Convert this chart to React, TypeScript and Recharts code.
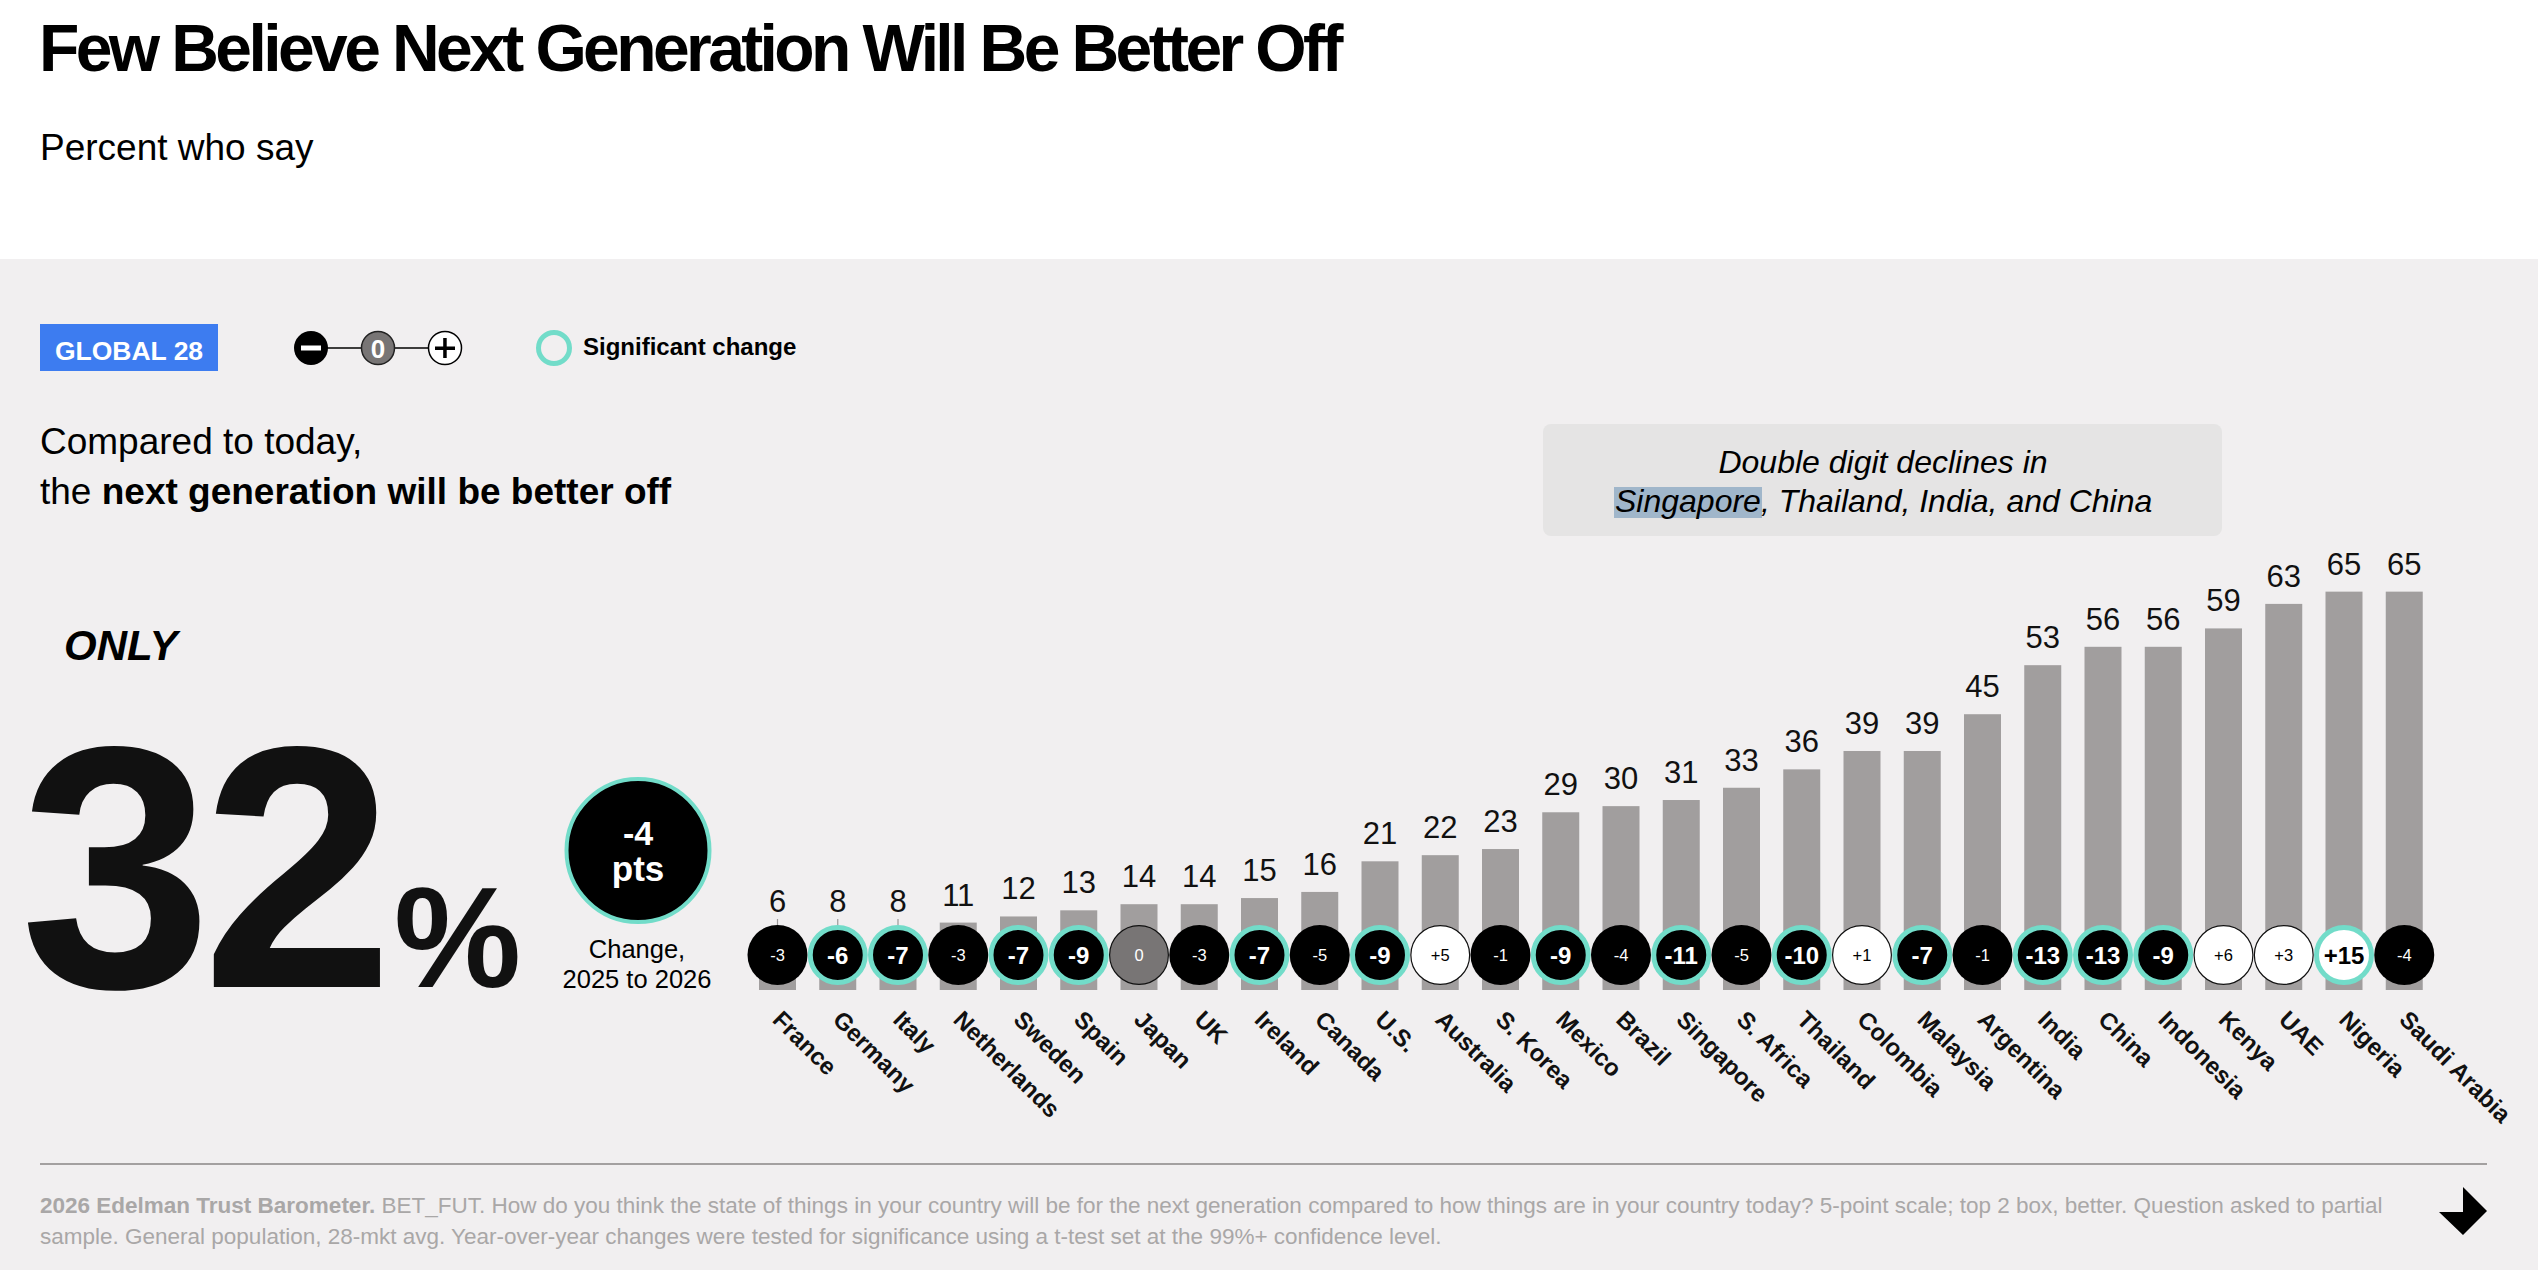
import React from "react";
import { BarChart, Bar, XAxis, YAxis } from "recharts";

const countries = [
  "France", "Germany", "Italy", "Netherlands", "Sweden", "Spain", "Japan", "UK", "Ireland", "Canada",
  "U.S.", "Australia", "S. Korea", "Mexico", "Brazil", "Singapore", "S. Africa", "Thailand", "Colombia",
  "Malaysia", "Argentina", "India", "China", "Indonesia", "Kenya", "UAE", "Nigeria", "Saudi Arabia",
];
const values = [6, 8, 8, 11, 12, 13, 14, 14, 15, 16, 21, 22, 23, 29, 30, 31, 33, 36, 39, 39, 45, 53, 56, 56, 59, 63, 65, 65];
const changes = [-3, -6, -7, -3, -7, -9, 0, -3, -7, -5, -9, 5, -1, -9, -4, -11, -5, -10, 1, -7, -1, -13, -13, -9, 6, 3, 15, -4];
const significant = [false, true, true, false, true, true, false, false, true, false, true, false, false, true, false, true, false, true, false, true, false, true, true, true, false, false, true, false];

const data = countries.map((c, i) => ({ country: c, value: values[i], change: changes[i], sig: significant[i] }));

const FONT = '"Liberation Sans", Arial, Helvetica, sans-serif';
const TEAL = "#72dcc9";
const BAR = "#a19e9e";
const BG = "#f1eff0";

const CIRCLE_OFFSET = 35; // distance from bar base to circle centre
const R = 30;

function BarShape(props: any) {
  const { x, y, width, height, payload } = props;
  const cx = x + width / 2;
  const base = y + height;
  const cy = base - CIRCLE_OFFSET;
  const top = cy - R;
  const labelY = Math.min(y - 17, top - 13);
  const ch = payload.change;
  const fill = ch < 0 ? "#000" : ch === 0 ? "#787575" : "#fff";
  const txtColor = ch > 0 ? "#000" : "#fff";
  const fs = payload.sig ? 24 : 16.5;
  const label = ch > 0 ? `+${ch}` : `${ch}`;
  return (
    <g>
      <rect x={x} y={y} width={width} height={height} fill={BAR} />
      {y > top - 2 && <line x1={cx} x2={cx} y1={top - 6} y2={top} stroke="#9a9898" strokeWidth={1.2} />}
      {payload.sig ? (
        <circle cx={cx} cy={cy} r={R - 2.5} fill={fill} stroke={TEAL} strokeWidth={5} />
      ) : ch < 0 ? (
        <circle cx={cx} cy={cy} r={R} fill={fill} />
      ) : (
        <circle cx={cx} cy={cy} r={R - 0.6} fill={fill} stroke="#111" strokeWidth={1.2} />
      )}
      <text x={cx} y={cy + fs * 0.36} textAnchor="middle" fontFamily={FONT} fontSize={fs}
        fontWeight={payload.sig ? "bold" : "normal"} fill={txtColor}>{label}</text>
      <text x={cx} y={labelY} textAnchor="middle" fontFamily={FONT} fontSize={31} fill="#111">{payload.value}</text>
    </g>
  );
}

function CountryTick(props: any) {
  const { x, payload } = props;
  return (
    <g transform={`translate(${x - 6}, ${1021}) rotate(45)`}>
      <text x={0} y={0} textAnchor="start" fontFamily={FONT} fontSize={24} fontWeight="bold" fill="#111">
        {payload.value}
      </text>
    </g>
  );
}

export default function App() {
  return (
    <div style={{ position: "absolute", left: 0, top: 0, width: 2538, height: 1270, background: "#fff", fontFamily: FONT, overflow: "hidden" }}>
      <div style={{ position: "absolute", left: 0, top: 259, width: 2538, height: 1011, background: BG }} />
      <div style={{ position: "absolute", left: 0, top: 0 }}>
        <BarChart width={2538} height={1270} data={data} margin={{ top: 561, right: 104, bottom: 80, left: 747 }} barCategoryGap={0}>
          <YAxis hide domain={[0, 70]} />
          <XAxis dataKey="country" height={200} interval={0} tickLine={false} axisLine={false} tick={<CountryTick />} />
          <Bar dataKey="value" barSize={37} shape={<BarShape />} isAnimationActive={false} />
        </BarChart>
      </div>
      <svg width={2538} height={1270} style={{ position: "absolute", left: 0, top: 0, pointerEvents: "none" }} fontFamily={FONT}>
        {/* Title */}
        <text x={39} y={71} fontSize={66} fontWeight="bold" letterSpacing={-3.6} fill="#000">Few Believe Next Generation Will Be Better Off</text>
        <text x={40} y={160} fontSize={37} fill="#000">Percent who say</text>

        {/* Legend */}
        <rect x={40} y={324} width={178} height={47} fill="#3d7cf0" />
        <text x={129} y={360} textAnchor="middle" fontSize={26.5} fontWeight="bold" fill="#fff">GLOBAL 28</text>
        <line x1={311} x2={445} y1={348} y2={348} stroke="#000" strokeWidth={1.5} />
        <circle cx={311} cy={348} r={17} fill="#000" />
        <rect x={301} y={345.5} width={20} height={5} fill="#fff" />
        <circle cx={378} cy={348} r={16.5} fill="#787575" stroke="#222" strokeWidth={1.5} />
        <text x={378} y={357.5} textAnchor="middle" fontSize={26} fontWeight="bold" fill="#fff">0</text>
        <circle cx={445} cy={348} r={16.5} fill="#fff" stroke="#000" strokeWidth={1.5} />
        <rect x={435} y={346.5} width={20} height={3.5} fill="#000" />
        <rect x={443.2} y={338} width={3.5} height={20} fill="#000" />
        <circle cx={554} cy={348} r={15.5} fill="none" stroke={TEAL} strokeWidth={5} />
        <text x={583} y={355} fontSize={24} fontWeight="bold" fill="#000">Significant change</text>

        {/* Question */}
        <text x={40} y={454} fontSize={37} fill="#000">Compared to today,</text>
        <text x={40} y={504} fontSize={37} fill="#000">the <tspan fontWeight="bold">next generation will be better off</tspan></text>

        {/* Headline number */}
        <text x={64} y={660} fontSize={42} fontWeight="bold" fontStyle="italic" fill="#000">ONLY</text>
        <text x={20} y={987} fontSize={345} fontWeight="bold" letterSpacing={-10} fill="#111">32</text>
        <text x={394} y={987} fontSize={143} fontWeight="bold" fill="#111">%</text>
        <circle cx={638} cy={850.5} r={71.5} fill="#000" stroke={TEAL} strokeWidth={4} />
        <text x={638} y={845} textAnchor="middle" fontSize={34} fontWeight="bold" fill="#fff">-4</text>
        <text x={638} y={881} textAnchor="middle" fontSize={35} fontWeight="bold" fill="#fff">pts</text>
        <text x={637} y={958} textAnchor="middle" fontSize={25.5} fill="#000">Change,</text>
        <text x={637} y={988} textAnchor="middle" fontSize={25.5} fill="#000">2025 to 2026</text>

        {/* Callout */}
        <rect x={1543} y={424} width={679} height={112} rx={8} fill="#e5e4e4" />
        <rect x={1614} y={487} width={148} height={31} fill="#a0b6ca" />
        <text x={1883} y={473} textAnchor="middle" fontSize={32} fontStyle="italic" fill="#000">Double digit declines in</text>
        <text x={1615} y={512} fontSize={32} fontStyle="italic" fill="#000">Singapore, Thailand, India, and China</text>

        {/* Footer */}
        <line x1={40} x2={2487} y1={1164} y2={1164} stroke="#a3a0a0" strokeWidth={2} />
        <text x={40} y={1213} fontSize={22.5} fill="#a9a7a7">
          <tspan fontWeight="bold">2026 Edelman Trust Barometer.</tspan> BET_FUT. How do you think the state of things in your country will be for the next generation compared to how things are in your country today? 5-point scale; top 2 box, better. Question asked to partial
        </text>
        <text x={40} y={1244} fontSize={22.5} fill="#a9a7a7">sample. General population, 28-mkt avg. Year-over-year changes were tested for significance using a t-test set at the 99%+ confidence level.</text>
        <polygon points="2439,1212 2463,1212 2463,1187 2487,1211 2463,1235" fill="#000" />
      </svg>
    </div>
  );
}
